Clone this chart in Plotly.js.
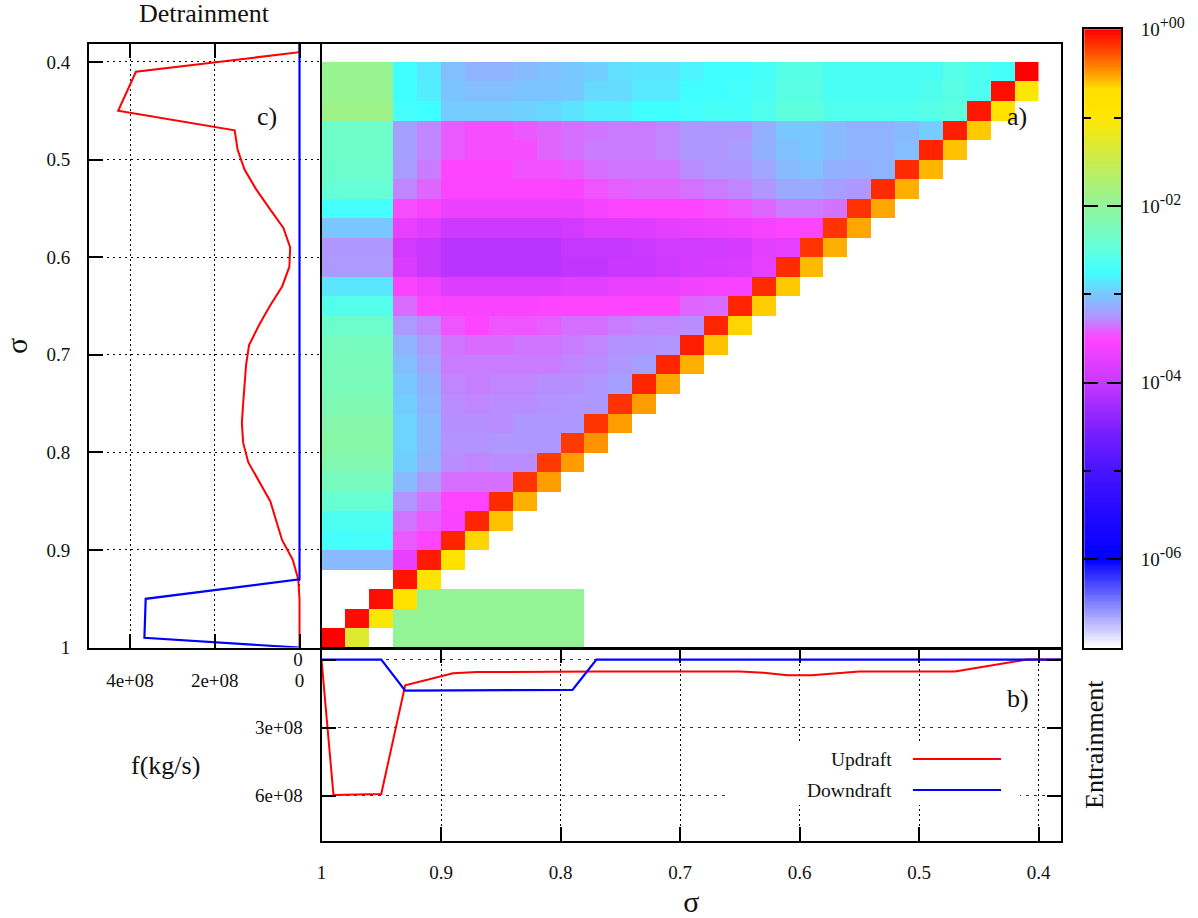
<!DOCTYPE html>
<html>
<head>
<meta charset="utf-8">
<script src="https://cdn.plot.ly/plotly-3.0.1.min.js"></script>
<style>html,body{margin:0;padding:0;background:#fff}#chart{width:1198px;height:918px}</style>
</head>
<body>
<div id="chart"></div>
<script>
// ---- heatmap axes: cell centres in sigma
const sigmaCells = [0.99,0.97,0.95,0.93,0.91,0.89,0.87,0.85,0.83,0.81,0.79,0.77,0.75,0.73,0.71,0.69,0.67,0.65,0.63,0.61,0.59,0.57,0.55,0.53,0.51,0.49,0.47,0.45,0.43,0.41];

// ---- log10(entrainment), one list per row (bottom = row00), columns left to right; blank = no value
const n = null;
const row00 = [-0.0,-1.3,n,-1.97,-1.97,-1.97,-1.97,-1.97,-1.97,-1.97,-1.97];
const row01 = [n,-0.04,-1.05,-1.97,-1.97,-1.97,-1.97,-1.97,-1.97,-1.97,-1.97];
const row02 = [n,n,-0.05,-0.78,-1.97,-1.97,-1.97,-1.97,-1.97,-1.97,-1.97];
const row03 = [n,n,n,-0.07,-0.8];
const row04 = [-3.07,-3.07,-3.07,-3.7,-0.09,-0.8];
const row05 = [-2.72,-2.72,-2.72,-3.43,-3.5,-0.12,-0.65];
const row06 = [-2.65,-2.65,-2.65,-3.35,-3.43,-3.55,-0.13,-0.6];
const row07 = [-2.43,-2.43,-2.43,-3.25,-3.35,-3.5,-3.5,-0.15,-0.55];
const row08 = [-2.27,-2.27,-2.27,-3.07,-3.23,-3.37,-3.37,-3.37,-0.18,-0.5];
const row09 = [-2.17,-2.17,-2.17,-2.97,-3.1,-3.28,-3.3,-3.28,-3.28,-0.2,-0.5];
const row10 = [-2.1,-2.1,-2.1,-2.95,-3.07,-3.26,-3.26,-3.25,-3.25,-3.25,-0.2,-0.47];
const row11 = [-2.12,-2.12,-2.12,-2.95,-3.07,-3.27,-3.27,-3.28,-3.24,-3.24,-3.24,-0.18,-0.5];
const row12 = [-2.2,-2.2,-2.2,-2.97,-3.1,-3.28,-3.3,-3.28,-3.28,-3.26,-3.24,-3.24,-0.17,-0.5];
const row13 = [-2.23,-2.23,-2.23,-3.0,-3.12,-3.3,-3.32,-3.3,-3.3,-3.27,-3.27,-3.25,-3.2,-0.13,-0.52];
const row14 = [-2.25,-2.25,-2.25,-3.05,-3.17,-3.33,-3.33,-3.33,-3.33,-3.33,-3.3,-3.28,-3.24,-3.2,-0.13,-0.55];
const row15 = [-2.27,-2.27,-2.27,-3.1,-3.23,-3.35,-3.38,-3.38,-3.35,-3.35,-3.33,-3.3,-3.26,-3.26,-3.25,-0.1,-0.6];
const row16 = [-2.38,-2.38,-2.38,-3.23,-3.3,-3.45,-3.5,-3.45,-3.45,-3.42,-3.37,-3.37,-3.33,-3.3,-3.3,-3.28,-0.13,-0.65];
const row17 = [-2.6,-2.6,-2.6,-3.38,-3.5,-3.55,-3.55,-3.55,-3.55,-3.52,-3.52,-3.52,-3.5,-3.5,-3.5,-3.4,-3.38,-0.13,-0.63];
const row18 = [-2.87,-2.87,-2.87,-3.55,-3.65,-3.8,-3.8,-3.8,-3.8,-3.8,-3.75,-3.75,-3.68,-3.68,-3.68,-3.62,-3.58,-3.58,-0.15,-0.62];
const row19 = [-3.23,-3.23,-3.23,-3.85,-3.98,-4.1,-4.1,-4.1,-4.1,-4.1,-4.05,-4.05,-3.98,-3.98,-3.93,-3.88,-3.87,-3.85,-3.72,-0.15,-0.58];
const row20 = [-3.25,-3.25,-3.25,-3.9,-4.0,-4.1,-4.1,-4.1,-4.1,-4.1,-4.02,-4.02,-4.02,-3.97,-3.92,-3.92,-3.9,-3.88,-3.75,-3.72,-0.18,-0.55];
const row21 = [-3.0,-3.0,-3.0,-3.7,-3.8,-3.95,-3.95,-3.95,-3.95,-3.95,-3.9,-3.8,-3.8,-3.8,-3.75,-3.7,-3.68,-3.65,-3.58,-3.5,-3.5,-0.18,-0.53];
const row22 = [-2.72,-2.72,-2.72,-3.47,-3.55,-3.68,-3.68,-3.68,-3.68,-3.68,-3.68,-3.6,-3.53,-3.5,-3.5,-3.5,-3.48,-3.45,-3.4,-3.33,-3.33,-3.36,-0.17,-0.53];
const row23 = [-2.45,-2.45,-2.45,-3.3,-3.4,-3.53,-3.53,-3.53,-3.53,-3.53,-3.55,-3.45,-3.42,-3.4,-3.4,-3.36,-3.33,-3.3,-3.25,-3.15,-3.15,-3.2,-3.25,-0.15,-0.55];
const row24 = [-2.38,-2.38,-2.38,-3.22,-3.33,-3.5,-3.5,-3.5,-3.46,-3.46,-3.43,-3.37,-3.35,-3.35,-3.35,-3.28,-3.25,-3.25,-3.17,-3.07,-3.03,-3.12,-3.13,-3.1,-0.15,-0.57];
const row25 = [-2.35,-2.35,-2.35,-3.2,-3.3,-3.43,-3.47,-3.47,-3.47,-3.4,-3.37,-3.33,-3.33,-3.33,-3.3,-3.25,-3.25,-3.22,-3.12,-3.03,-3.0,-3.07,-3.1,-3.1,-3.05,-0.12,-0.6];
const row26 = [-2.35,-2.35,-2.35,-3.2,-3.3,-3.43,-3.47,-3.47,-3.44,-3.4,-3.37,-3.35,-3.33,-3.33,-3.3,-3.25,-3.25,-3.25,-3.12,-3.0,-3.0,-3.07,-3.1,-3.1,-3.06,-2.98,-0.1,-0.62];
const row27 = [-1.88,-1.88,-1.88,-2.72,-2.75,-2.98,-2.98,-2.98,-2.96,-2.93,-2.88,-2.82,-2.82,-2.75,-2.75,-2.72,-2.68,-2.7,-2.62,-2.52,-2.52,-2.62,-2.62,-2.62,-2.62,-2.58,-2.52,-0.08,-0.8];
const row28 = [-1.93,-1.93,-1.93,-2.75,-2.83,-3.02,-3.05,-3.05,-3.02,-3.02,-3.0,-2.92,-2.92,-2.85,-2.85,-2.75,-2.75,-2.72,-2.68,-2.55,-2.55,-2.68,-2.68,-2.68,-2.68,-2.63,-2.55,-2.65,-0.05,-1.05];
const row29 = [-1.93,-1.93,-1.93,-2.75,-2.85,-3.05,-3.1,-3.1,-3.07,-3.03,-3.0,-2.97,-2.9,-2.87,-2.87,-2.8,-2.75,-2.75,-2.7,-2.58,-2.58,-2.68,-2.68,-2.68,-2.68,-2.68,-2.58,-2.65,-2.72,-0.0];

// ---- colour table: log10 level, colour
const colourStops = [
  [-7,'#ffffff'],[-6.5,'#8080ff'],[-6,'#0000ff'],[-5.5,'#2008ff'],[-5,'#4814ff'],[-4.5,'#8020ff'],[-4,'#c838ff'],
  [-3.5,'#ff44ff'],[-3.25,'#b096ff'],[-3,'#78c8ff'],[-2.75,'#40ffff'],[-2.5,'#60ffdc'],[-2,'#90f59a'],[-1.5,'#c8ec50'],
  [-1,'#ffe600'],[-0.68,'#ffe000'],[-0.5,'#ff9c00'],[-0.25,'#ff4800'],[0,'#ff0000']
];

// ---- panel b: mass flux against sigma
const sigmaB = [1,0.99,0.97,0.95,0.93,0.91,0.89,0.87,0.85,0.83,0.81,0.79,0.77,0.75,0.73,0.71,0.69,0.67,0.65,0.63,0.61,0.59,0.57,0.55,0.53,0.51,0.49,0.47,0.45,0.43,0.41,0.39,0.38];
const updraftB = [0,5.97e8,5.95e8,5.93e8,1.13e8,0.85e8,0.6e8,0.55e8,0.54e8,0.54e8,0.54e8,0.54e8,0.53e8,0.53e8,0.53e8,0.53e8,0.53e8,0.53e8,0.53e8,0.58e8,0.69e8,0.69e8,0.6e8,0.52e8,0.52e8,0.52e8,0.52e8,0.52e8,0.35e8,0.18e8,0,0,0];
const downdraftB = [0,0,0,0,1.37e8,1.37e8,1.37e8,1.36e8,1.36e8,1.35e8,1.35e8,1.34e8,0,0,0,0,0,0,0,0,0,0,0,0,0,0,0,0,0,0,0,0,0];

// ---- panel c: detrainment against sigma
const sigmaC = [0.38,0.39,0.41,0.43,0.45,0.47,0.49,0.51,0.53,0.55,0.57,0.59,0.61,0.63,0.65,0.67,0.69,0.71,0.73,0.75,0.77,0.79,0.81,0.83,0.85,0.87,0.89,0.91,0.93,0.95,0.97,0.99,1];
const updraftC = [0,0,3.86e8,4.07e8,4.28e8,1.53e8,1.46e8,1.3e8,1.03e8,0.71e8,0.38e8,0.22e8,0.24e8,0.41e8,0.7e8,0.96e8,1.19e8,1.26e8,1.3e8,1.33e8,1.36e8,1.33e8,1.21e8,0.95e8,0.69e8,0.55e8,0.41e8,0.16e8,0.03e8,0,0,0,0];
const downdraftC = [0,0,0,0,0,0,0,0,0,0,0,0,0,0,0,0,0,0,0,0,0,0,0,0,0,0,0,0,0,3.63e8,3.645e8,3.66e8,0];

// ---- tick tables
const sigmaTicks = [0.4,0.5,0.6,0.7,0.8,0.9,1];
const sigmaTickText = ['0.4','0.5','0.6','0.7','0.8','0.9','1'];
const fluxTicksB = [0,3e8,6e8];
const fluxTextB = ['0','3e+08','6e+08'];
const fluxTicksC = [0,2e8,4e8];
const fluxTextC = ['0','2e+08','4e+08'];
const barMajor = [0,-2,-4,-6];
const barExponents = ['+00','-02','-04','-06'];
const barMinor = [-1,-3,-5];

const rows = [row00,row01,row02,row03,row04,row05,row06,row07,row08,row09,row10,row11,row12,row13,row14,row15,row16,row17,row18,row19,row20,row21,row22,row23,row24,row25,row26,row27,row28,row29];
const zCells = rows.map(r => sigmaCells.map((_, i) => (i < r.length ? r[i] : null)));
const scale = colourStops.map(s => [(s[0] + 7) / 7, s[1]]);
const barText = barExponents.map(e => '<span style="font-size:19px">10</span><sup><span style="font-size:16px">' + e + '</span></sup>');

// colour bar ramp
const rampLevels = [];
for (let i = 0; i <= 350; i++) rampLevels.push(-7 + i * 0.02);

// pixel layout helpers (paper fractions)
const W = 1198, H = 918;
const fx = p => p / W, fy = p => 1 - p / H;
const SERIF = '"Liberation Serif","Times New Roman",serif';
const INK = '#000';
const tickFont = {family: SERIF, size: 19, color: '#111'};
const frame = {showline: true, linecolor: INK, linewidth: 2, mirror: true, zeroline: false};
const sigmaRangeX = [1,0.3813];
const sigmaRangeY = [1,0.3816];

const traces = [
  {type:'heatmap', x:sigmaCells, y:sigmaCells.slice(), z:zCells, xaxis:'x', yaxis:'y', colorscale:scale, zmin:-7, zmax:0, showscale:false, hoverongaps:false},
  {type:'scatter', mode:'lines', name:'Detrainment updraft', x:updraftC, y:sigmaC, xaxis:'x2', yaxis:'y2', line:{color:'#ff0000', width:2}},
  {type:'scatter', mode:'lines', name:'Detrainment downdraft', x:downdraftC, y:sigmaC, xaxis:'x2', yaxis:'y2', line:{color:'#0000ff', width:2.2}},
  {type:'scatter', mode:'lines', name:'Updraft', x:sigmaB, y:updraftB, xaxis:'x3', yaxis:'y3', line:{color:'#ff0000', width:2}},
  {type:'scatter', mode:'lines', name:'Downdraft', x:sigmaB, y:downdraftB, xaxis:'x3', yaxis:'y3', line:{color:'#0000ff', width:2.2}},
  {type:'heatmap', x:[0,1], y:rampLevels, z:rampLevels.map(v => [v,v]), xaxis:'x4', yaxis:'y4', colorscale:scale, zmin:-7, zmax:0, showscale:false, hoverinfo:'skip'}
];

const note = (text, x, y, extra) => Object.assign({text, x:fx(x), y:fy(y), xref:'paper', yref:'paper', showarrow:false,
  xanchor:'center', yanchor:'middle', font:{family:SERIF, size:26, color:'#111'}}, extra || {});

const layout = {
  width: W, height: H, showlegend: false, paper_bgcolor: '#fff', plot_bgcolor: '#fff',
  margin: {l:0, r:0, t:0, b:0, autoexpand:false},
  font: {family: SERIF, color:'#111'},
  // a) heat map
  xaxis: Object.assign({}, frame, {domain:[fx(321.5),fx(1061)], range:sigmaRangeX, anchor:'y', showticklabels:false, ticks:'', showgrid:false}),
  yaxis: Object.assign({}, frame, {domain:[fy(647.6),fy(44)], range:sigmaRangeY, anchor:'x', showticklabels:false, ticks:'', showgrid:false}),
  // c) detrainment
  xaxis2: Object.assign({}, frame, {domain:[fx(89),fx(319.5)], range:[4.968e8,-0.472e8], anchor:'y2', tickmode:'array', tickvals:fluxTicksC, ticktext:fluxTextC,
    ticks:'inside', ticklen:14, tickwidth:2, tickcolor:INK, mirror:'ticks', ticklabelstandoff:15, tickfont:tickFont,
    showgrid:true, gridcolor:'#000', gridwidth:1, griddash:'2px,3px'}),
  yaxis2: Object.assign({}, frame, {domain:[fy(647.6),fy(44)], range:sigmaRangeY, anchor:'x2', tickmode:'array', tickvals:sigmaTicks, ticktext:sigmaTickText,
    ticks:'inside', ticklen:14, tickwidth:2, tickcolor:INK, ticklabelstandoff:13, tickfont:tickFont,
    showgrid:true, gridcolor:'#000', gridwidth:1, griddash:'2px,4px',
    title:{text:'σ', font:{family:SERIF, size:30, color:'#111'}, standoff:14}}),
  // b) mass flux
  xaxis3: Object.assign({}, frame, {domain:[fx(321.5),fx(1061)], range:sigmaRangeX, anchor:'y3', tickmode:'array', tickvals:sigmaTicks, ticktext:sigmaTickText,
    ticks:'inside', ticklen:14, tickwidth:2, tickcolor:INK, mirror:'ticks', ticklabelstandoff:13, tickfont:tickFont,
    showgrid:true, gridcolor:'#000', gridwidth:1, griddash:'2px,3px',
    title:{text:'σ', font:{family:SERIF, size:30, color:'#111'}, standoff:10}}),
  yaxis3: Object.assign({}, frame, {domain:[fy(840.7),fy(649.3)], range:[7.99e8,-0.454e8], anchor:'x3', tickmode:'array', tickvals:fluxTicksB, ticktext:fluxTextB,
    ticks:'inside', ticklen:14, tickwidth:2, tickcolor:INK, mirror:'ticks', ticklabelstandoff:13, tickfont:tickFont,
    showgrid:true, gridcolor:'#333', gridwidth:1, griddash:'3px,5px'}),
  // colour bar
  xaxis4: Object.assign({}, frame, {domain:[fx(1084.3),fx(1121)], range:[0,1], anchor:'y4', showticklabels:false, ticks:'', showgrid:false}),
  yaxis4: Object.assign({}, frame, {domain:[fy(647.7),fy(29.3)], range:[-7,0], anchor:'x4', side:'right', tickmode:'array', tickvals:barMajor, ticktext:barText,
    ticks:'inside', ticklen:14, tickwidth:2, tickcolor:INK, mirror:'ticks', ticklabelstandoff:14, tickfont:tickFont, showgrid:false,
    minor:{tickmode:'array', tickvals:barMinor, ticks:'inside', ticklen:7, tickwidth:2, tickcolor:INK, showgrid:false}}),
  annotations: [
    note('Detrainment', 204, 14),
    note('f(kg/s)', 165, 765),
    note('Entrainment', 1094, 745, {textangle:-90}),
    note('a)', 1017, 117),
    note('b)', 1018, 698),
    note('c)', 267, 117),
    note('Updraft', 894, 759, {xanchor:'right', font:{family:SERIF, size:19.5, color:'#111'}}),
    note('Downdraft', 894, 790, {xanchor:'right', font:{family:SERIF, size:19.5, color:'#111'}})
  ],
  shapes: [
    {type:'rect', xref:'paper', yref:'paper', x0:fx(727), x1:fx(1020), y0:fy(805), y1:fy(743), fillcolor:'#fff', line:{width:0}, layer:'above'},
    {type:'line', xref:'paper', yref:'paper', x0:fx(913), x1:fx(1001), y0:fy(759), y1:fy(759), line:{color:'#ff0000', width:2}, layer:'above'},
    {type:'line', xref:'paper', yref:'paper', x0:fx(913), x1:fx(1001), y0:fy(790), y1:fy(790), line:{color:'#0000ff', width:2}, layer:'above'}
  ]
};

Plotly.newPlot('chart', traces, layout, {displayModeBar:false, responsive:false});
</script>
</body>
</html>
